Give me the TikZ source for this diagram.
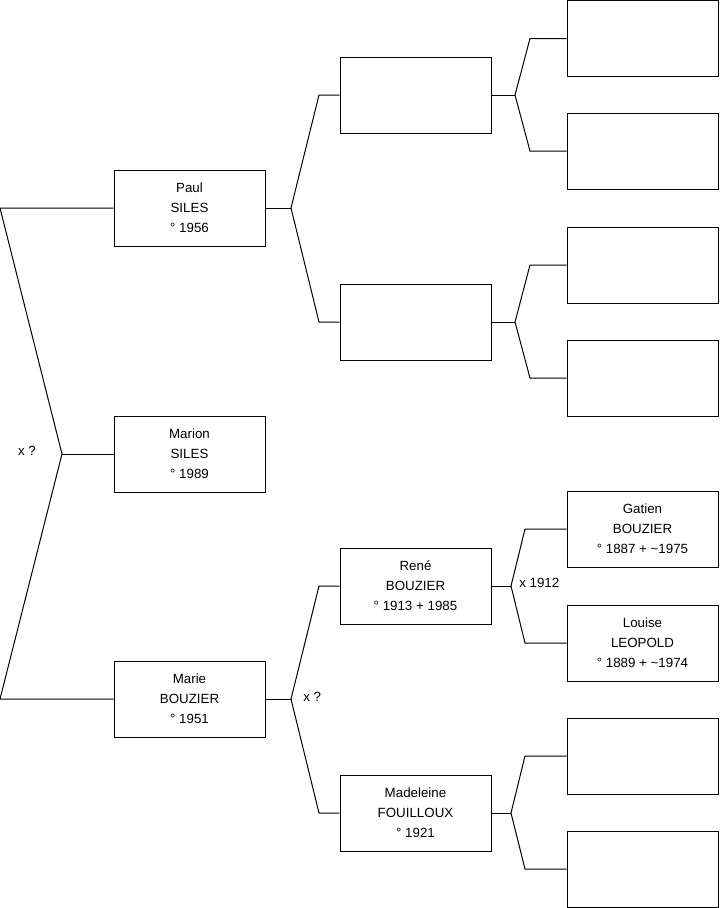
\documentclass[tikz,border=0pt]{standalone}
\usepackage{fontspec}
\setmainfont{Liberation Sans}
\begin{document}
\begin{tikzpicture}[x=0.75pt,y=-0.75pt,
  person/.style={draw,line width=0.75pt,minimum width=113.25pt,minimum height=57pt,
    inner sep=0pt,align=center,font=\fontsize{10}{15}\selectfont},
  link/.style={line width=0.75pt},
  union/.style={font=\fontsize{10}{12}\selectfont,inner sep=0pt}]
  \useasboundingbox (0,0) rectangle (719,908);
  % generation 1
  \node[person] (paul) at (189.5,208) {Paul\\SILES\\° 1956};
  \node[person] (marion) at (189.5,454) {Marion\\SILES\\° 1989};
  \node[person] (marie) at (189.5,699) {Marie\\BOUZIER\\° 1951};
  % generation 2
  \node[person] (pf) at (415.5,95) {};
  \node[person] (pm) at (415.5,322) {};
  \node[person] (rene) at (415.5,586) {René\\BOUZIER\\° 1913 + 1985};
  \node[person] (madeleine) at (415.5,813) {Madeleine\\FOUILLOUX\\° 1921};
  % generation 3
  \node[person] (pff) at (642.5,38.5) {};
  \node[person] (pfm) at (642.5,151) {};
  \node[person] (pmf) at (642.5,265) {};
  \node[person] (pmm) at (642.5,378) {};
  \node[person] (gatien) at (642.5,529) {Gatien\\BOUZIER\\° 1887 + \textasciitilde1975};
  \node[person] (louise) at (642.5,643) {Louise\\LEOPOLD\\° 1889 + \textasciitilde1974};
  \node[person] (madf) at (642.5,756) {};
  \node[person] (madm) at (642.5,869) {};
  % forks
  \coordinate (ktop) at (0,208);
  \coordinate (kroot) at (62,454);
  \coordinate (kbot) at (0,699);
  \draw[link] (paul.west) -- (ktop) -- (kroot) -- (kbot) -- (marie.west);
  \draw[link] (kroot) -- (marion.west);
  \node[union] (u0) at (27,451) {x ?};
  \coordinate (kp) at (291,208);
  \draw[link] (paul.east) -- (kp);
  \draw[link] (pf.west) -- (319,95) -- (kp) -- (319,322) -- (pm.west);
  \coordinate (km) at (291,699);
  \draw[link] (marie.east) -- (km);
  \draw[link] (rene.west) -- (319,586) -- (km) -- (319,813) -- (madeleine.west);
  \node[union,anchor=west] (u1) at (303,697) {x ?};
  \coordinate (kpf) at (515,95);
  \draw[link] (pf.east) -- (kpf);
  \draw[link] (pff.west) -- (530,38.5) -- (kpf) -- (530,151) -- (pfm.west);
  \coordinate (kpm) at (515,322);
  \draw[link] (pm.east) -- (kpm);
  \draw[link] (pmf.west) -- (530,265) -- (kpm) -- (530,378) -- (pmm.west);
  \coordinate (kr) at (511,586);
  \draw[link] (rene.east) -- (kr);
  \draw[link] (gatien.west) -- (525,529) -- (kr) -- (525,643) -- (louise.west);
  \node[union,anchor=west] (u2) at (519,583) {x 1912};
  \coordinate (kmd) at (511,813);
  \draw[link] (madeleine.east) -- (kmd);
  \draw[link] (madf.west) -- (525,756) -- (kmd) -- (525,869) -- (madm.west);
\end{tikzpicture}
\end{document}
